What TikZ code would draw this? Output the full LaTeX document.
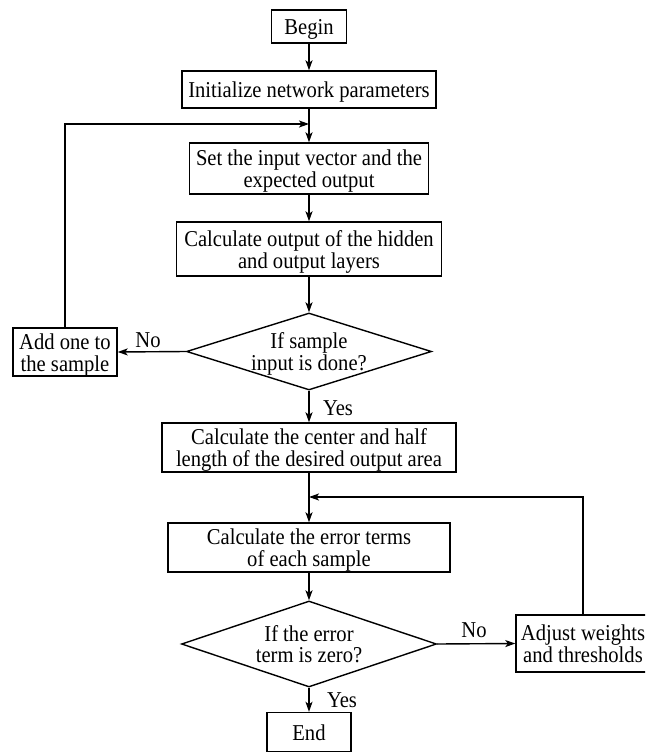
\documentclass[tikz,border=0pt]{standalone}
\usepackage{fontspec}
\usepackage{graphicx}
\setmainfont{Liberation Serif}
\usetikzlibrary{shapes.geometric,arrows.meta}
\newcommand\vtxt[1]{\raisebox{-3.4pt}[\height][\depth]{\scalebox{1}[1.1]{\begin{tabular}{@{}c@{}}#1\end{tabular}}}}
\newcommand\vlbl[1]{\scalebox{1}[1.1]{#1}}
\begin{document}
\begin{tikzpicture}[x=1pt,y=-1pt,
  box/.style={draw, line width=1.4pt, inner sep=0pt, font=\fontsize{20.6}{18.6}\selectfont},
  dec/.style={draw, diamond, line width=1.4pt, inner sep=0pt, aspect=1},
  txt/.style={inner sep=0pt, font=\fontsize{20.6}{18.6}\selectfont},
  lbl/.style={anchor=base, inner sep=0pt, font=\fontsize{20.6}{18.6}\selectfont},
  arr/.style={line width=1.4pt, -{Stealth[length=10pt,width=7pt,inset=2.5pt]}}]
\useasboundingbox (0,0) rectangle (645,752);
\clip (0,0) rectangle (645,752);

\node[box, minimum width=75pt, minimum height=33pt] (begin) at (309,26.5) {\vtxt{Begin}};
\node[box, minimum width=254pt, minimum height=37pt] (init) at (309,89.5) {\vtxt{Initialize network parameters}};
\node[box, minimum width=239pt, minimum height=51pt] (set) at (309,168.5) {\vtxt{Set the input vector and the\\expected output}};
\node[box, minimum width=265pt, minimum height=54pt] (hid) at (309,249) {\vtxt{Calculate output of the hidden\\and output layers}};
\node[dec, minimum width=245pt, minimum height=77pt] (d1) at (309,351.5) {};
\node[txt] (d1t) at (309,351) {\vtxt{If sample\\input is done?}};
\node[box, minimum width=104pt, minimum height=48pt] (add) at (65,352) {\vtxt{Add one to\\the sample}};
\node[box, minimum width=294pt, minimum height=49pt] (cen) at (309,447.5) {\vtxt{Calculate the center and half\\length of the desired output area}};
\node[box, minimum width=282pt, minimum height=49pt] (err) at (309,547.5) {\vtxt{Calculate the error terms\\of each sample}};
\node[dec, minimum width=255pt, minimum height=86pt] (d2) at (309,644) {};
\node[txt] (d2t) at (309,644) {\vtxt{If the error\\term is zero?}};
\node[box, minimum width=134pt, minimum height=57pt] (adj) at (583,643.5) {\vtxt{Adjust weights\\and thresholds}};
\node[box, minimum width=84pt, minimum height=39pt] (end) at (309,732) {\vtxt{End}};

\coordinate (j1) at (309,124);
\coordinate (j2) at (309,497);
\draw[arr] (begin) -- (init);
\draw[arr] (init) -- (set);
\draw[arr] (add.north) |- (j1);
\draw[arr] (set) -- (hid);
\draw[arr] (hid) -- (d1);
\draw[arr] (d1.west) -- (add.east);
\draw[arr] (d1.south) -- (cen.north);
\draw[arr] (cen) -- (err);
\draw[arr] (adj.north) |- (j2);
\draw[arr] (err) -- (d2);
\draw[arr] (d2.east) -- (adj.west);
\draw[arr] (d2.south) -- (end.north);

\node[lbl] (no1) at (148,347.5) {\vlbl{No}};
\node[lbl] (yes1) at (338,415) {\vlbl{Yes}};
\node[lbl] (no2) at (474,637) {\vlbl{No}};
\node[lbl] (yes2) at (342,707) {\vlbl{Yes}};
\end{tikzpicture}
\end{document}
